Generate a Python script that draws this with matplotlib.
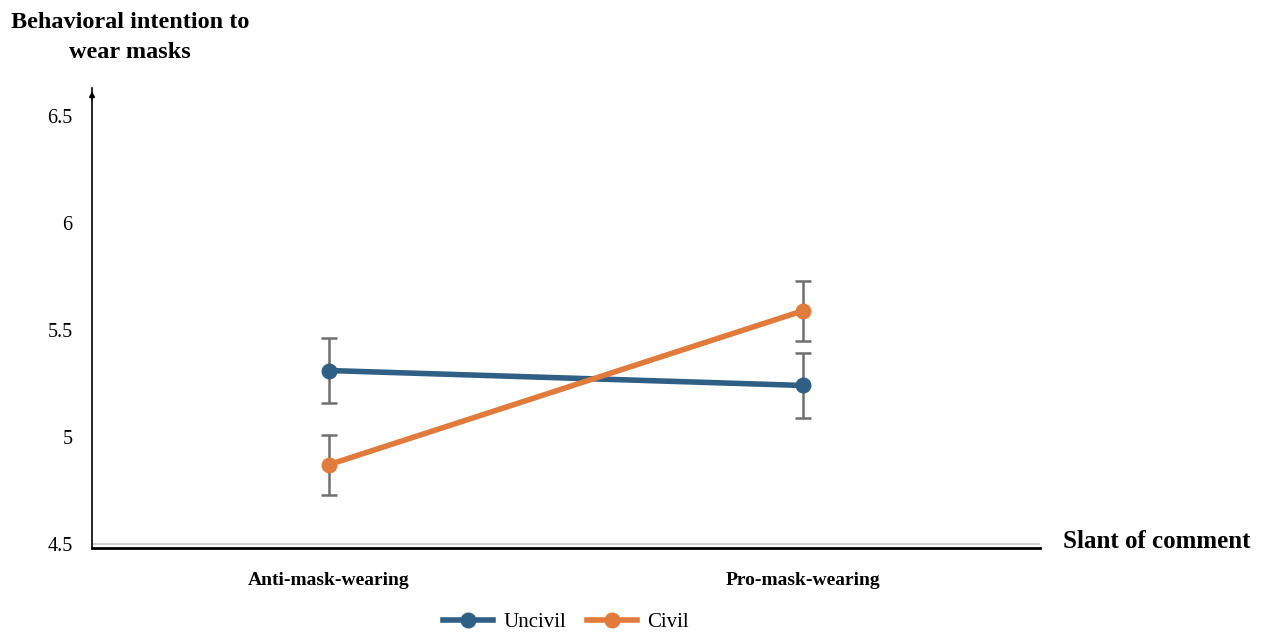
import matplotlib
matplotlib.use("Agg")
import matplotlib.pyplot as plt

categories = ["Anti-mask-wearing", "Pro-mask-wearing"]
uncivil = [5.31, 5.24]
uncivil_err = [0.15, 0.15]
civil = [4.87, 5.59]
civil_err = [0.14, 0.14]
yticks = [4.5, 5, 5.5, 6, 6.5]
ytick_labels = ["4.5", "5", "5.5", "6", "6.5"]

plt.rcParams['font.family'] = ['Liberation Serif', 'DejaVu Serif']

fig = plt.figure(figsize=(12.61, 6.35), dpi=100)
ax = fig.add_axes([0.073, 0.137, 0.752, 0.724])

xpos = [0.5, 1.5]
blue = "#2f5f84"
orange = "#e07b3c"
errc = "#6f6f6f"

ax.errorbar(xpos, uncivil, yerr=uncivil_err, fmt='none', ecolor=errc, elinewidth=1.8, capsize=6, capthick=1.8, zorder=2)
ax.errorbar(xpos, civil, yerr=civil_err, fmt='none', ecolor=errc, elinewidth=1.8, capsize=6, capthick=1.8, zorder=2)
ax.plot(xpos, uncivil, color=blue, lw=4, marker='o', ms=10.5, label="Uncivil", zorder=3)
ax.plot(xpos, civil, color=orange, lw=4, marker='o', ms=10.5, label="Civil", zorder=3)

ax.set_xlim(0, 2)
ax.set_ylim(4.48, 6.63)
ax.set_xticks(xpos)
ax.set_xticklabels(categories, fontweight='bold', fontsize=14)
ax.set_yticks(yticks)
ax.set_yticklabels(ytick_labels, fontsize=14.5)
ax.tick_params(axis='both', length=0)
ax.tick_params(axis='x', pad=17)
ax.tick_params(axis='y', pad=14)

ax.axhline(4.5, color="#d0d0d0", lw=1.5, zorder=1)

for s in ['top', 'right']:
    ax.spines[s].set_visible(False)
ax.spines['left'].set_linewidth(1.2)
ax.spines['bottom'].set_linewidth(2)
ax.annotate('', xy=(0, 1.0), xycoords='axes fraction', xytext=(0, 0.97),
            arrowprops=dict(arrowstyle='-|>', color='black', lw=1.2, mutation_scale=8))

fig.text(0.103, 0.981, "Behavioral intention to\nwear masks", ha='center', va='top',
         fontsize=17.5, fontweight='bold', linespacing=1.55)
fig.text(0.843, 0.148, "Slant of comment", ha='left', va='center', fontsize=18, fontweight='bold')

fig.legend(loc='lower center', bbox_to_anchor=(0.449, -0.025), ncol=2, frameon=False,
           fontsize=15, handlelength=2.4, columnspacing=1.0, handletextpad=0.5)

fig.savefig("out.png", dpi=100)
